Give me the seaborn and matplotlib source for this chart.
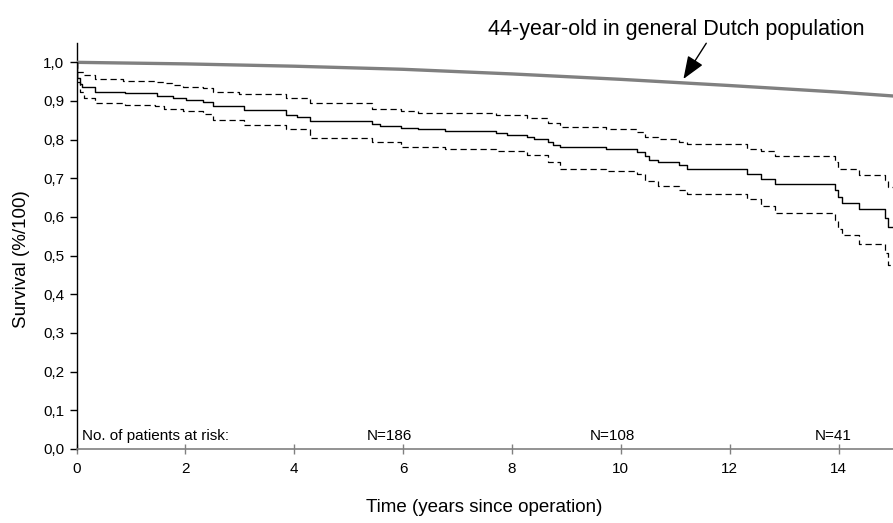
import matplotlib
matplotlib.use("Agg")
import matplotlib.pyplot as plt
import seaborn as sns
import pandas as pd
import numpy as np

# ---------------- data ----------------
km_time = [0, 0.01, 0.06, 0.10, 0.34, 0.89, 1.47, 1.77, 2.02, 2.33, 2.51, 3.07, 3.84, 4.05,
           4.29, 5.42, 5.58, 5.97, 6.28, 6.77, 7.70, 7.91, 8.28, 8.41, 8.67, 8.76, 8.88,
           9.72, 10.29, 10.45, 10.51, 10.69, 11.06, 11.22, 12.32, 12.57, 12.84, 13.93,
           13.99, 14.07, 14.37, 14.85, 14.91, 15.0]
km_surv = [1.0, 0.96, 0.945, 0.935, 0.924, 0.92, 0.913, 0.909, 0.903, 0.898, 0.886, 0.876,
           0.863, 0.859, 0.849, 0.840, 0.835, 0.831, 0.827, 0.823, 0.818, 0.812, 0.806,
           0.801, 0.795, 0.787, 0.780, 0.776, 0.767, 0.757, 0.748, 0.741, 0.734, 0.724,
           0.711, 0.699, 0.686, 0.670, 0.653, 0.637, 0.620, 0.597, 0.575, 0.575]

upper_time = [0, 0.01, 0.13, 0.34, 0.86, 1.44, 1.60, 1.75, 1.96, 2.33, 2.51, 2.98, 3.84,
              4.29, 5.42, 5.97, 6.28, 6.77, 7.70, 8.28, 8.67, 8.88, 9.72, 10.29, 10.45,
              10.69, 11.06, 11.22, 12.32, 12.57, 12.84, 13.93, 13.99, 14.37, 14.85, 14.91, 15.0]
upper_surv = [1.0, 0.975, 0.967, 0.957, 0.952, 0.948, 0.946, 0.941, 0.937, 0.933, 0.924,
              0.918, 0.907, 0.895, 0.880, 0.874, 0.870, 0.868, 0.863, 0.855, 0.844, 0.832,
              0.828, 0.821, 0.808, 0.801, 0.795, 0.789, 0.777, 0.770, 0.758, 0.743, 0.723,
              0.708, 0.695, 0.678, 0.678]

lower_time = [0, 0.01, 0.06, 0.13, 0.34, 0.89, 1.44, 1.60, 1.96, 2.33, 2.51, 3.07, 3.84,
              4.29, 5.42, 5.97, 6.77, 7.70, 8.28, 8.67, 8.88, 9.72, 10.29, 10.45, 10.69,
              11.06, 11.22, 12.32, 12.57, 12.84, 13.93, 13.99, 14.07, 14.37, 14.85, 14.91, 15.0]
lower_surv = [1.0, 0.95, 0.924, 0.907, 0.894, 0.89, 0.886, 0.879, 0.873, 0.866, 0.850,
              0.839, 0.827, 0.805, 0.795, 0.782, 0.776, 0.770, 0.760, 0.743, 0.725, 0.720,
              0.710, 0.692, 0.680, 0.670, 0.659, 0.646, 0.628, 0.611, 0.591, 0.570, 0.553,
              0.530, 0.506, 0.476, 0.476]

pop_time = [0, 2, 4, 6, 8, 10, 12, 14, 15]
pop_surv = [1.0, 0.996, 0.99, 0.982, 0.970, 0.956, 0.940, 0.923, 0.913]

risk_time = [5.75, 9.85, 13.9]
risk_n = [186, 108, 41]

x_ticks = [0, 2, 4, 6, 8, 10, 12, 14]
y_ticks = [0.0, 0.1, 0.2, 0.3, 0.4, 0.5, 0.6, 0.7, 0.8, 0.9, 1.0]
y_tick_labels = [f"{v:.1f}".replace(".", ",") for v in y_ticks]

# ---------------- styling ----------------
sns.set_theme(style="white")
plt.rcParams["font.family"] = ["Liberation Sans", "DejaVu Sans"]
plt.rcParams["text.color"] = "black"

W, H = 893, 523
fig = plt.figure(figsize=(W / 100, H / 100), dpi=100)
x0, x1 = 76.5, 893
y_bottom, y_top = 449, 43
ax = fig.add_axes([x0 / W, (H - y_bottom) / H, (x1 - x0) / W, (y_bottom - y_top) / H])

df_pop = pd.DataFrame({"t": pop_time, "s": pop_surv})
df_km = pd.DataFrame({"t": km_time, "s": km_surv})
df_up = pd.DataFrame({"t": upper_time, "s": upper_surv})
df_lo = pd.DataFrame({"t": lower_time, "s": lower_surv})

sns.lineplot(data=df_pop, x="t", y="s", ax=ax, color="#808080", linewidth=2.4,
             estimator=None, sort=True, zorder=3)
sns.lineplot(data=df_km, x="t", y="s", ax=ax, color="black", linewidth=1.0,
             estimator=None, sort=True, drawstyle="steps-post", zorder=4)
for d in (df_up, df_lo):
    sns.lineplot(data=d, x="t", y="s", ax=ax, color="black", linewidth=0.9,
                 estimator=None, sort=True, drawstyle="steps-post",
                 dashes=False, linestyle=(0, (5, 3)), zorder=4)

ax.set_xlim(0, 15)
ax.set_ylim(0, 1.05)
ax.set_xticks(x_ticks)
ax.set_xticklabels([str(v) for v in x_ticks], fontsize=11)
ax.set_yticks(y_ticks)
ax.set_yticklabels(y_tick_labels, fontsize=11)

for side in ("top", "right"):
    ax.spines[side].set_visible(False)
ax.spines["left"].set_color("black")
ax.spines["left"].set_linewidth(1.0)
ax.spines["bottom"].set_color("#808080")
ax.spines["bottom"].set_linewidth(1.2)
ax.spines["bottom"].set_zorder(5)

ax.tick_params(axis="y", direction="out", length=5, width=1, color="black",
               labelcolor="black", pad=4, left=True)
ax.tick_params(axis="x", direction="inout", length=7, width=1, color="#808080",
               labelcolor="black", pad=6, bottom=True)

ax.set_xlabel("Time (years since operation)", fontsize=13.5, color="black")
ax.set_ylabel("Survival (%/100)", fontsize=13.5, color="black")
ax.xaxis.set_label_coords(0.499, -0.122)
ax.yaxis.set_label_coords(-0.057, 0.468)

# risk table text
ax.text(0.1, 0.034, "No. of patients at risk:", fontsize=11, ha="left", va="center",
        color="black")
for t, n in zip(risk_time, risk_n):
    ax.text(t, 0.034, f"N={n}", fontsize=11, ha="center", va="center", color="black")

# annotation
ax.annotate("44-year-old in general Dutch population",
            xy=(11.15, 0.957), xytext=(11.02, 1.085),
            textcoords="data", fontsize=15.5, ha="center", va="center",
            color="black", annotation_clip=False,
            arrowprops=dict(arrowstyle="-|>,head_length=0.9,head_width=0.35",
                            color="black", lw=1.0, shrinkA=0, shrinkB=0,
                            relpos=(0.585, 0.0)))

fig.savefig("out.png", dpi=100)
